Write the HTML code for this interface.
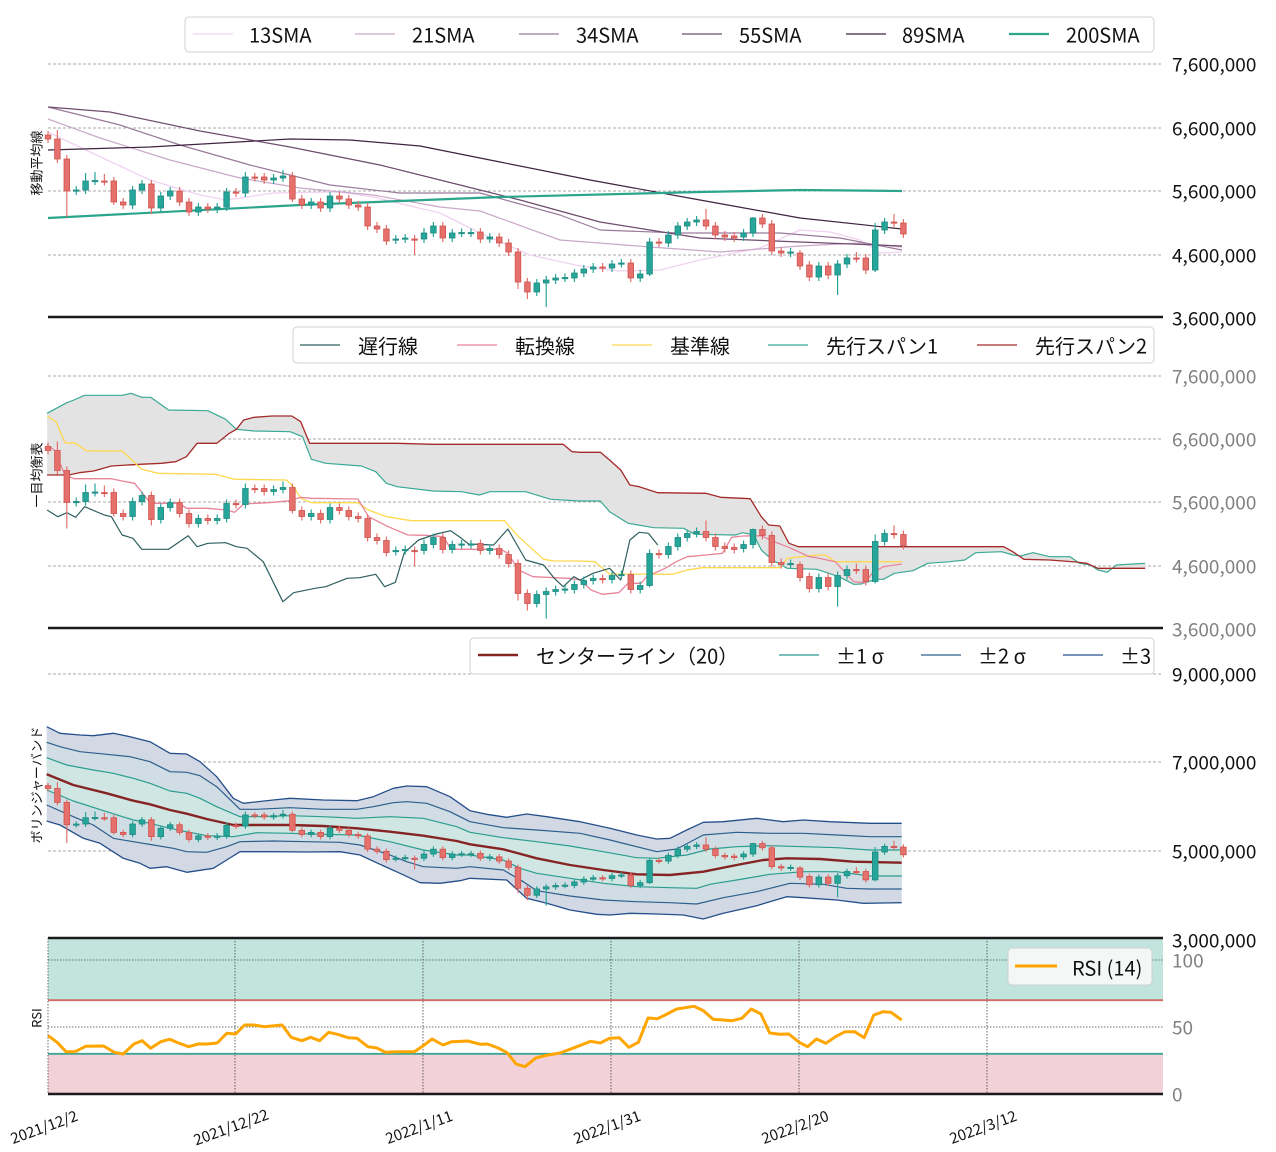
<!DOCTYPE html>
<html><head><meta charset="utf-8">
<style>
html,body{margin:0;padding:0;background:#fff;}
svg{display:block;}
text{font-family:"Noto Sans CJK JP","Liberation Sans",sans-serif;}
</style></head>
<body>
<svg id="s" width="1276" height="1152" viewBox="0 0 1276 1152" xmlns="http://www.w3.org/2000/svg"></svg>
<script>
var S=document.getElementById('s');var out=[];
function add(h){out.push(h);}
function pl(pts,col,w,extra){add('<polyline fill="none" stroke="'+col+'" stroke-width="'+w+'" stroke-linejoin="round" points="'+pts.map(function(p){return p[0].toFixed(1)+','+p[1].toFixed(1)}).join(' ')+'" '+(extra||'')+'/>');}
function pg(pts,col,extra){add('<polygon fill="'+col+'" stroke="none" points="'+pts.map(function(p){return p[0].toFixed(1)+','+p[1].toFixed(1)}).join(' ')+'" '+(extra||'')+'/>');}
function tr(a,ox,oy,sx,sy){return a.map(function(p){return [ox+p[0]/sx,oy+p[1]/sy];});}
function joinP(a,b,cut){return a.filter(function(p){return p[0]<cut;}).concat(b.filter(function(p){return p[0]>=cut;}));}
function txt(x,y,s,size,col,anchor,extra){add('<text x="'+x+'" y="'+y+'" font-size="'+size+'" fill="'+col+'" text-anchor="'+(anchor||'start')+'" dominant-baseline="central" '+(extra||'')+'>'+s+'</text>');}
var X0=48,X1=1163;

/* ---------- grid lines ---------- */
[64,128,191,255, 376,439,502,566, 674,762,851].forEach(function(y){add('<line x1="'+X0+'" x2="'+X1+'" y1="'+y+'" y2="'+y+'" stroke="#aaa" stroke-width="0.9" stroke-dasharray="3,2"/>');});

/* ---------- candles ---------- */
var C=[[135,139],[139,159],[159,191],[191,190],[190,181],[181,180.5],[181,181.5],[181,202],[202,205],[205,190],[190,184],[184,208],[208,196],[196,191],[191,202],[202,212],[212,207],[207,209],[209,207],[207,192],[192,193],[193,177],[177,177.5],[177,180],[180,178],[178,176],[176,199],[199,205],[205,202],[202,208],[208,196],[196,199],[199,205],[205,207],[207,226],[226,229],[229,241],[240,239],[239,238],[239,239.5],[239,233],[233,226],[226,238],[238,233],[233,232.5],[233,232.5],[232,239],[239,237],[237,243],[243,252],[252,282],[282,292],[292,283],[283,280],[280,278],[278,277.5],[278,273],[273,269],[269,267],[267,268],[268,264],[263.5,263],[263,278],[278,274],[274,242],[242,243],[243,235],[235,226],[226,222],[222,220],[220,226],[226,235],[235,237],[236,238],[237,233],[233,218],[218,224],[224,251],[251,253],[253,252],[253,266],[265,277],[277,266],[266,275],[275,264],[264,258],[258,258.5],[258,270],[270,230],[230,222],[222,223],[223,234]];
var HI={1:130,4:173,5:172,6:174,21:172,25:170,40:228,64:238,70:209,75:217,76:214,88:223,89:218,90:214,86:252,80:250};
var LO={2:217,11:214,36:245,39:255,50:289,51:299,53:307,64:276,84:295,88:272,62:282,7:205,26:202};
function p1(y){return 7.6e6-(y-64)/63.5*1e6;}
function y3(p){return 940-(p-3e6)*266/6e6;}
function drawCandles(map){
  C.forEach(function(c,i){
    var x=48+i*9.4,o=c[0],cl=c[1];
    var top=Math.min(o,cl),bot=Math.max(o,cl);
    var hi=HI[i]!==undefined?HI[i]:top-4, lo=LO[i]!==undefined?LO[i]:bot+4;
    var up=cl<o;
    var fc=up?'#26a69a':'#e5706c', ec=up?'#1e8a80':'#cf5450';
    var yt=map(top),yb=map(bot),yh=map(hi),yl=map(lo);
    add('<line x1="'+x+'" x2="'+x+'" y1="'+yh+'" y2="'+yl+'" stroke="'+(up?'#26a69a':'#e5706c')+'" stroke-width="1.2"/>');
    var h=Math.max(yb-yt,1.2);
    add('<rect x="'+(x-2.8)+'" y="'+yt+'" width="5.6" height="'+h+'" fill="'+fc+'" stroke="'+ec+'" stroke-width="0.8"/>');
  });
}

/* ---------- PANEL 1: SMA ---------- */
var sma13=[[48,132],[107,160],[150,180],[200,195],[227,200],[273,193],[340,192],[373,197],[440,213],[480,233],[530,255],[580,266],[620,271],[660,270],[700,260],[760,248],[800,230],[830,232],[860,240],[880,253],[902,252]];
var sma21=[[48,119],[100,138],[170,160],[240,178],[300,188],[373,195],[440,207],[480,211],[560,240],[650,247],[720,252],[800,246],[860,243],[902,247]];
var sma34=[[48,107],[120,125],[180,145],[250,165],[330,185],[400,193],[480,193],[560,215],[600,230],[680,233],[780,233],[840,238],[902,250]];
var sma55=[[48,107],[110,112],[200,131],[290,147],[380,165],[460,185],[520,200],[600,222],[700,238],[800,242],[902,246]];
var sma89=[[48,150],[150,147],[290,139],[350,140],[420,146],[500,162],[590,180],[700,200],[800,218],[902,229]];
var sma200=[[48,218],[300,205],[500,197],[700,192],[800,190],[902,191]];
pl(sma13,'#f0d2f2',1.3);pl(sma21,'#c9a8c9',1.2);pl(sma34,'#9a7a9a',1.2);pl(sma55,'#6e4c6e',1.2);pl(sma89,'#3f2340',1.2);pl(sma200,'#2ca58d',2.2);
drawCandles(function(y){return y;});

/* ---------- PANEL 2: Ichimoku ---------- */
function Z3(a){return tr(a,40,380,2.8,3);} function Z4(a){return tr(a,580,400,2.7033,3);}
var s1=joinP(Z3([[20,100],[75,68],[95,60],[125,46],[230,46],[255,40],[285,52],[310,52],[360,90],[470,92],[520,118],[550,148],[600,153],[700,155],[735,170],[760,238],[800,250],[900,258],[940,275],[970,310],[1000,320],[1100,333],[1180,335],[1230,345],[1260,335],[1360,335],[1430,358],[1568,360]]),
 Z4([[0,303],[55,303],[80,335],[130,370],[200,383],[280,385],[310,403],[420,405],[440,398],[470,405],[490,450],[520,480],[560,505],[640,508],[700,530],[740,553],[760,552],[800,538],[820,538],[850,520],[900,512],[940,490],[1000,485],[1040,480],[1070,458],[1140,455],[1170,465],[1190,468],[1225,458],[1270,470],[1325,470],[1350,490],[1380,495],[1400,510],[1425,517],[1450,495],[1528,490]]),580);
var s2=joinP(Z3([[20,285],[80,285],[110,278],[150,273],[200,258],[280,253],[340,250],[380,245],[410,230],[440,190],[495,190],[530,160],[550,148],[570,120],[600,112],[650,108],[705,108],[730,125],[755,190],[800,190],[1000,190],[1100,193],[1465,193],[1490,215],[1568,215]]),
 Z4([[0,157],[55,157],[80,180],[110,210],[135,255],[160,260],[210,278],[340,280],[380,292],[460,296],[490,350],[510,375],[540,378],[565,430],[590,440],[1145,440],[1170,455],[1200,478],[1270,480],[1340,486],[1370,490],[1400,505],[1528,505]]),580);
pg(s1.concat(s2.slice().reverse()),'#e3e3e3');
var kij=joinP(Z3([[20,108],[45,125],[70,188],[100,190],[130,212],[230,213],[285,268],[330,280],[490,283],[545,298],[690,300],[710,320],[730,355],[760,368],[890,368],[920,390],[970,410],[1040,422],[1300,422],[1340,470],[1410,538],[1440,543],[1568,548]]),
 Z4([[0,483],[40,485],[80,522],[250,523],[290,510],[330,503],[540,503],[560,475],[640,465],[665,466],[690,485],[870,485]]),580);
var ten=joinP(Z3([[20,195],[40,210],[70,285],[95,296],[200,296],[230,303],[265,310],[310,370],[390,370],[410,385],[470,385],[520,390],[545,397],[570,372],[640,368],[700,362],[730,352],[760,355],[890,357],[920,410],[975,440],[1030,465],[1080,466],[1130,470],[1150,508],[1290,508],[1310,520],[1340,570],[1380,590],[1480,595],[1530,605],[1568,640]]),
 Z4([[0,540],[30,570],[60,583],[105,578],[130,550],[165,550],[180,530],[230,505],[260,485],[290,470],[340,465],[385,460],[410,412],[440,408],[490,407],[520,423],[560,440],[600,460],[620,470],[640,473],[690,485],[740,545],[770,548],[790,520],[820,500],[870,492]]),580);
var chi=joinP(Z3([[20,390],[50,410],[75,398],[100,412],[125,380],[180,405],[200,410],[230,465],[260,475],[285,508],[360,508],[415,467],[440,500],[470,490],[520,488],[550,500],[580,505],[625,545],[680,665],[710,638],[770,625],[800,620],[860,595],[895,593],[940,583],[965,620],[995,607],[1020,518],[1060,480],[1110,462],[1150,452],[1180,475],[1200,492],[1270,495],[1310,447],[1360,540],[1410,555],[1440,595],[1465,620],[1495,590],[1520,608],[1568,570]]),
 Z4([[0,540],[35,520],[80,505],[110,540],[135,420],[160,397],[185,400],[210,435]]),580);
pl(s1,'#3aaa94',1.2);pl(s2,'#a52a2a',1.3);pl(kij,'#ffd84d',1.3);pl(ten,'#e8849a',1.3);pl(chi,'#2f5f5f',1.2);
drawCandles(function(y){return y+311.5;});

/* ---------- PANEL 3: Bollinger ---------- */
function Z5(a){return tr(a,40,715,3,3);} function Z6(a){return tr(a,470,715,3,3);}
function B(a,b){return joinP(Z5(a),Z6(b),470);}
var u3=B([[20,35],[60,55],[120,60],[160,62],[220,55],[270,65],[330,80],[390,115],[440,117],[480,140],[530,185],[580,250],[610,265],[700,255],[750,250],[850,255],[950,257],[1000,245],[1060,220],[1100,213],[1160,215],[1230,245],[1290,290],[1320,295]],
 [[0,287],[50,298],[110,307],[170,297],[230,305],[330,320],[420,340],[500,360],[560,372],[600,370],[650,345],[700,322],[760,320],[860,310],[940,320],[1000,315],[1080,320],[1200,325],[1295,325]]);
var u2=B([[20,82],[60,95],[120,110],[200,118],[270,125],[330,140],[390,170],[440,172],[480,182],[530,215],[600,283],[650,283],[750,278],[850,283],[950,283],[1000,275],[1060,263],[1100,260],[1160,265],[1230,290],[1290,320],[1320,325]],
 [[0,320],[100,338],[200,345],[330,355],[420,375],[500,395],[560,410],[620,402],[700,360],[800,352],[900,355],[1000,355],[1100,360],[1200,365],[1295,365]]);
var u1=B([[20,128],[80,150],[160,165],[220,175],[280,190],[330,205],[390,228],[440,235],[480,250],[530,275],[600,305],[650,305],[750,302],[850,305],[950,310],[1050,305],[1150,310],[1250,335],[1320,360]],
 [[0,352],[100,368],[200,380],[300,393],[400,410],[500,428],[560,430],[650,420],[720,402],[800,395],[900,392],[1000,395],[1100,398],[1200,405],[1295,405]]);
var cen=B([[20,178],[100,210],[200,235],[280,257],[330,268],[390,285],[440,296],[500,312],[580,330],[650,330],[750,330],[850,333],[950,340],[1050,350],[1150,362],[1250,378],[1320,392]],
 [[0,388],[100,403],[200,430],[300,450],[400,465],[500,478],[600,480],[700,470],[800,450],[880,435],[950,430],[1050,432],[1150,440],[1295,443]]);
var l1=B([[20,225],[100,258],[200,290],[280,315],[330,325],[390,340],[440,350],[500,362],[580,365],[650,353],[750,355],[850,358],[950,360],[1050,380],[1150,405],[1250,420],[1320,425]],
 [[0,420],[100,435],[150,460],[200,475],[300,490],[400,505],[500,515],[600,518],[680,520],[720,508],[800,495],[900,478],[1000,470],[1100,470],[1200,483],[1295,483]]);
var l2=B([[20,270],[100,305],[160,330],[220,370],[280,380],[340,390],[400,400],[440,410],[500,412],[560,395],[600,380],[700,378],[800,380],[900,382],[960,390],[1050,420],[1100,440],[1150,455],[1250,460],[1320,458]],
 [[0,455],[100,465],[160,500],[200,527],[300,543],[400,555],[500,560],[600,563],[680,567],[760,548],[860,530],[960,505],[1060,508],[1130,520],[1200,522],[1295,522]]);
var l3=B([[20,318],[60,330],[130,370],[180,385],[250,430],[300,445],[330,460],[380,455],[440,472],[520,460],[560,435],[600,410],[700,410],[800,411],[900,410],[960,420],[1020,448],[1080,475],[1140,503],[1200,505],[1260,497],[1290,490],[1320,490]],
 [[0,490],[110,495],[170,550],[230,565],[300,585],[380,598],[420,600],[480,595],[560,597],[640,600],[700,612],[760,595],[860,572],[950,545],[1000,548],[1100,555],[1180,565],[1295,563]]);
pg(u3.concat(l3.slice().reverse()),'#d3d9e4');
pg(u2.concat(l2.slice().reverse()),'#d0dde5');
pg(u1.concat(l1.slice().reverse()),'#cfe6e3');
[u3,l3].forEach(function(a){pl(a,'#254f8a',1.3);});
[u2,l2].forEach(function(a){pl(a,'#2d5f8c',1.2);});
[u1,l1].forEach(function(a){pl(a,'#2a9d8f',1.2);});
pl(cen,'#862424',2.4);
drawCandles(function(y){return y3(p1(y));});

/* ---------- PANEL 4: RSI ---------- */
function ry(v){return 1094-v*1.34;}
add('<rect x="'+X0+'" y="938" width="'+(X1-X0)+'" height="'+(ry(70)-938)+'" fill="#c1e5dc"/>');
add('<rect x="'+X0+'" y="'+ry(30)+'" width="'+(X1-X0)+'" height="'+(1094-ry(30))+'" fill="#f3d1d8"/>');
[960,1027].forEach(function(y){add('<line x1="'+X0+'" x2="'+X1+'" y1="'+y+'" y2="'+y+'" stroke="#444" stroke-width="0.8" stroke-dasharray="1.5,1.5"/>');});
[48,235,423,611,799,987].forEach(function(x){add('<line x1="'+x+'" x2="'+x+'" y1="938" y2="1094" stroke="#444" stroke-width="0.8" stroke-dasharray="1.5,1.5"/>');});
add('<line x1="'+X0+'" x2="'+X1+'" y1="'+ry(70)+'" y2="'+ry(70)+'" stroke="#d06a68" stroke-width="1.8"/>');
add('<line x1="'+X0+'" x2="'+X1+'" y1="'+ry(30)+'" y2="'+ry(30)+'" stroke="#3aa595" stroke-width="1.8"/>');
function Z7(a){return tr(a,0,938-22/3,2.8,3*(1)).map(function(p){return [p[0],938+(p[1]-938)*156/156];});}
function RZ(a,ox,sx){return a.map(function(p){return [ox+p[0]/sx, 938+(p[1]-22)*(156/468)];});}
var rsi=joinP(RZ([[135,315],[160,335],[185,363],[210,363],[240,347],[290,346],[320,365],[345,370],[375,340],[398,330],[422,353],[450,333],[475,326],[500,337],[528,348],[555,340],[580,340],[608,337],[635,308],[660,310],[685,283],[710,283],[740,288],[790,283],[815,320],[845,330],[870,320],[895,330],[920,305],[945,311],[975,321],[1000,323],[1030,348],[1055,352],[1080,365],[1110,363],[1160,363],[1185,345],[1210,325],[1240,343],[1265,333],[1310,331],[1345,341],[1365,340],[1395,352],[1420,366],[1445,400],[1470,408],[1500,382],[1530,374],[1568,367]],0,2.8),
 RZ([[0,367],[40,350],[80,332],[105,337],[130,323],[155,321],[180,350],[205,335],[230,262],[255,264],[280,250],[305,235],[350,227],[375,240],[400,266],[450,270],[475,263],[500,235],[525,250],[548,307],[575,311],[598,310],[625,335],[647,348],[670,325],[695,338],[720,318],[745,303],[770,303],[795,321],[820,253],[845,243],[865,245],[893,268]],560,2.6133),560);
pl(rsi,'#ffa500',3);

/* ---------- spines ---------- */
[317,628,938,1094].forEach(function(y){add('<line x1="'+X0+'" x2="'+X1+'" y1="'+y+'" y2="'+y+'" stroke="#1a1a1a" stroke-width="2.4"/>');});

/* ---------- axis labels ---------- */
[['7,600,000',64],['6,600,000',128],['5,600,000',191],['4,600,000',255],['3,600,000',318]].forEach(function(t){txt(1172,t[1],t[0],19,'#111');});
[['7,600,000',376],['6,600,000',439],['5,600,000',502],['4,600,000',566],['3,600,000',629]].forEach(function(t){txt(1172,t[1],t[0],19,'#808080');});
[['9,000,000',674],['7,000,000',762],['5,000,000',851],['3,000,000',940]].forEach(function(t){txt(1172,t[1],t[0],19,'#111');});
[['100',960],['50',1027],['0',1094]].forEach(function(t){txt(1172,t[1],t[0],19,'#808080');});
[['2021/12/2',48],['2021/12/22',235],['2022/1/11',423],['2022/1/31',611],['2022/2/20',799],['2022/3/12',987]].forEach(function(t){
  add('<text x="'+(t[1]-4)+'" y="1127" font-size="15" fill="#111" text-anchor="middle" dominant-baseline="central" transform="rotate(-20 '+(t[1]-4)+' 1127)">'+t[0]+'</text>');});
[['移動平均線',163],['一目均衡表',475],['ボリンジャーバンド',785],['RSI',1018]].forEach(function(t){
  add('<text x="36" y="'+t[1]+'" font-size="13" fill="#111" text-anchor="middle" dominant-baseline="central" transform="rotate(-90 36 '+t[1]+')">'+t[0]+'</text>');});

/* ---------- legends ---------- */
function box(x1,y1,x2,y2){add('<rect x="'+x1+'" y="'+y1+'" width="'+(x2-x1)+'" height="'+(y2-y1)+'" rx="4" fill="#fff" fill-opacity="0.85" stroke="#d0d0d0" stroke-width="1"/>');}
function item(lx,tx,y,col,w,s,size){add('<line x1="'+lx+'" x2="'+(lx+40)+'" y1="'+y+'" y2="'+y+'" stroke="'+col+'" stroke-width="'+w+'"/>');txt(tx,y,s,size||20,'#111');}
box(185,17,1154,52);
item(193,249,34,'#f0d2f2',1.3,'13SMA');item(355,412,34,'#c9a8c9',1.2,'21SMA');item(519,576,34,'#9a7a9a',1.2,'34SMA');
item(682,739,34,'#6e4c6e',1.2,'55SMA');item(846,902,34,'#3f2340',1.2,'89SMA');item(1009,1066,34,'#2ca58d',2.2,'200SMA');
box(293,327,1154,363);
item(300,358,345,'#2f5f5f',1.2,'遅行線');item(457,515,345,'#e8849a',1.3,'転換線');item(612,670,345,'#ffd84d',1.3,'基準線');
item(768,826,345,'#3aaa94',1.2,'先行スパン1');item(977,1035,345,'#a52a2a',1.3,'先行スパン2');
box(470,638,1154,674);
item(478,536,655,'#862424',2.4,'センターライン（20）');item(779,836,655,'#2a9d8f',1.2,'±1 σ');item(921,978,655,'#2d5f8c',1.2,'±2 σ');item(1063,1120,655,'#254f8a',1.3,'±3');
add('<rect x="1008" y="948" width="144" height="37" rx="4" fill="#f3f8f7" stroke="#d0d0d0" stroke-width="1"/>');
add('<line x1="1015" x2="1057" y1="966" y2="966" stroke="#ffa500" stroke-width="3"/>');txt(1072,967,'RSI (14)',20,'#111');

S.innerHTML=out.join('');
</script>
</body></html>
